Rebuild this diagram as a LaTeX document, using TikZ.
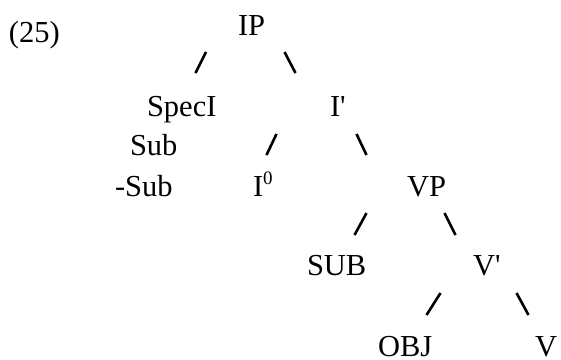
\documentclass[tikz,border=0pt]{standalone}
\usepackage{fontspec}
\newfontfamily\tnr{Liberation Serif}
\begin{document}
\begin{tikzpicture}[x=1pt,y=-1pt,
  lbl/.style={anchor=base west,inner sep=0pt,outer sep=0pt,font=\tnr\fontsize{30.5}{36}\selectfont},
  branch/.style={line width=2.6pt,line cap=butt,black}]
\useasboundingbox (0,0) rectangle (561,359);
% text nodes
\node[lbl] (ex)    at (9,42)    {(25)};
\node[lbl] (IP)    at (238,35)  {IP};
\node[lbl] (SpecI) at (147,116) {SpecI};
\node[lbl] (Ibar)  at (330,116) {I'};
\node[lbl] (Sub)   at (130,155) {Sub};
\node[lbl] (mSub)  at (115,196) {-Sub};
\node[lbl] (Izero) at (253,196) {I\raisebox{12pt}{\fontsize{19}{19}\selectfont 0}};
\node[lbl] (VP)    at (407,196) {VP};
\node[lbl] (SUB)   at (307,275) {SUB};
\node[lbl] (Vbar)  at (473,275) {V'};
\node[lbl] (OBJ)   at (378,356) {OBJ};
\node[lbl] (V)     at (535,356) {V};
% branch end points
\coordinate (a1) at (195.5,73); \coordinate (a2) at (206,52);
\coordinate (b1) at (284.5,52); \coordinate (b2) at (295.5,73);
\coordinate (c1) at (266.5,155); \coordinate (c2) at (276.5,134);
\coordinate (d1) at (356.5,134); \coordinate (d2) at (366.5,155);
\coordinate (e1) at (354.5,235); \coordinate (e2) at (366.5,213);
\coordinate (f1) at (444.5,213); \coordinate (f2) at (455.5,235);
\coordinate (g1) at (426.5,315); \coordinate (g2) at (440.5,293);
\coordinate (h1) at (516.5,293); \coordinate (h2) at (528.5,315);
\draw[branch] (a1) -- (a2);
\draw[branch] (b1) -- (b2);
\draw[branch] (c1) -- (c2);
\draw[branch] (d1) -- (d2);
\draw[branch] (e1) -- (e2);
\draw[branch] (f1) -- (f2);
\draw[branch] (g1) -- (g2);
\draw[branch] (h1) -- (h2);
\end{tikzpicture}
\end{document}
